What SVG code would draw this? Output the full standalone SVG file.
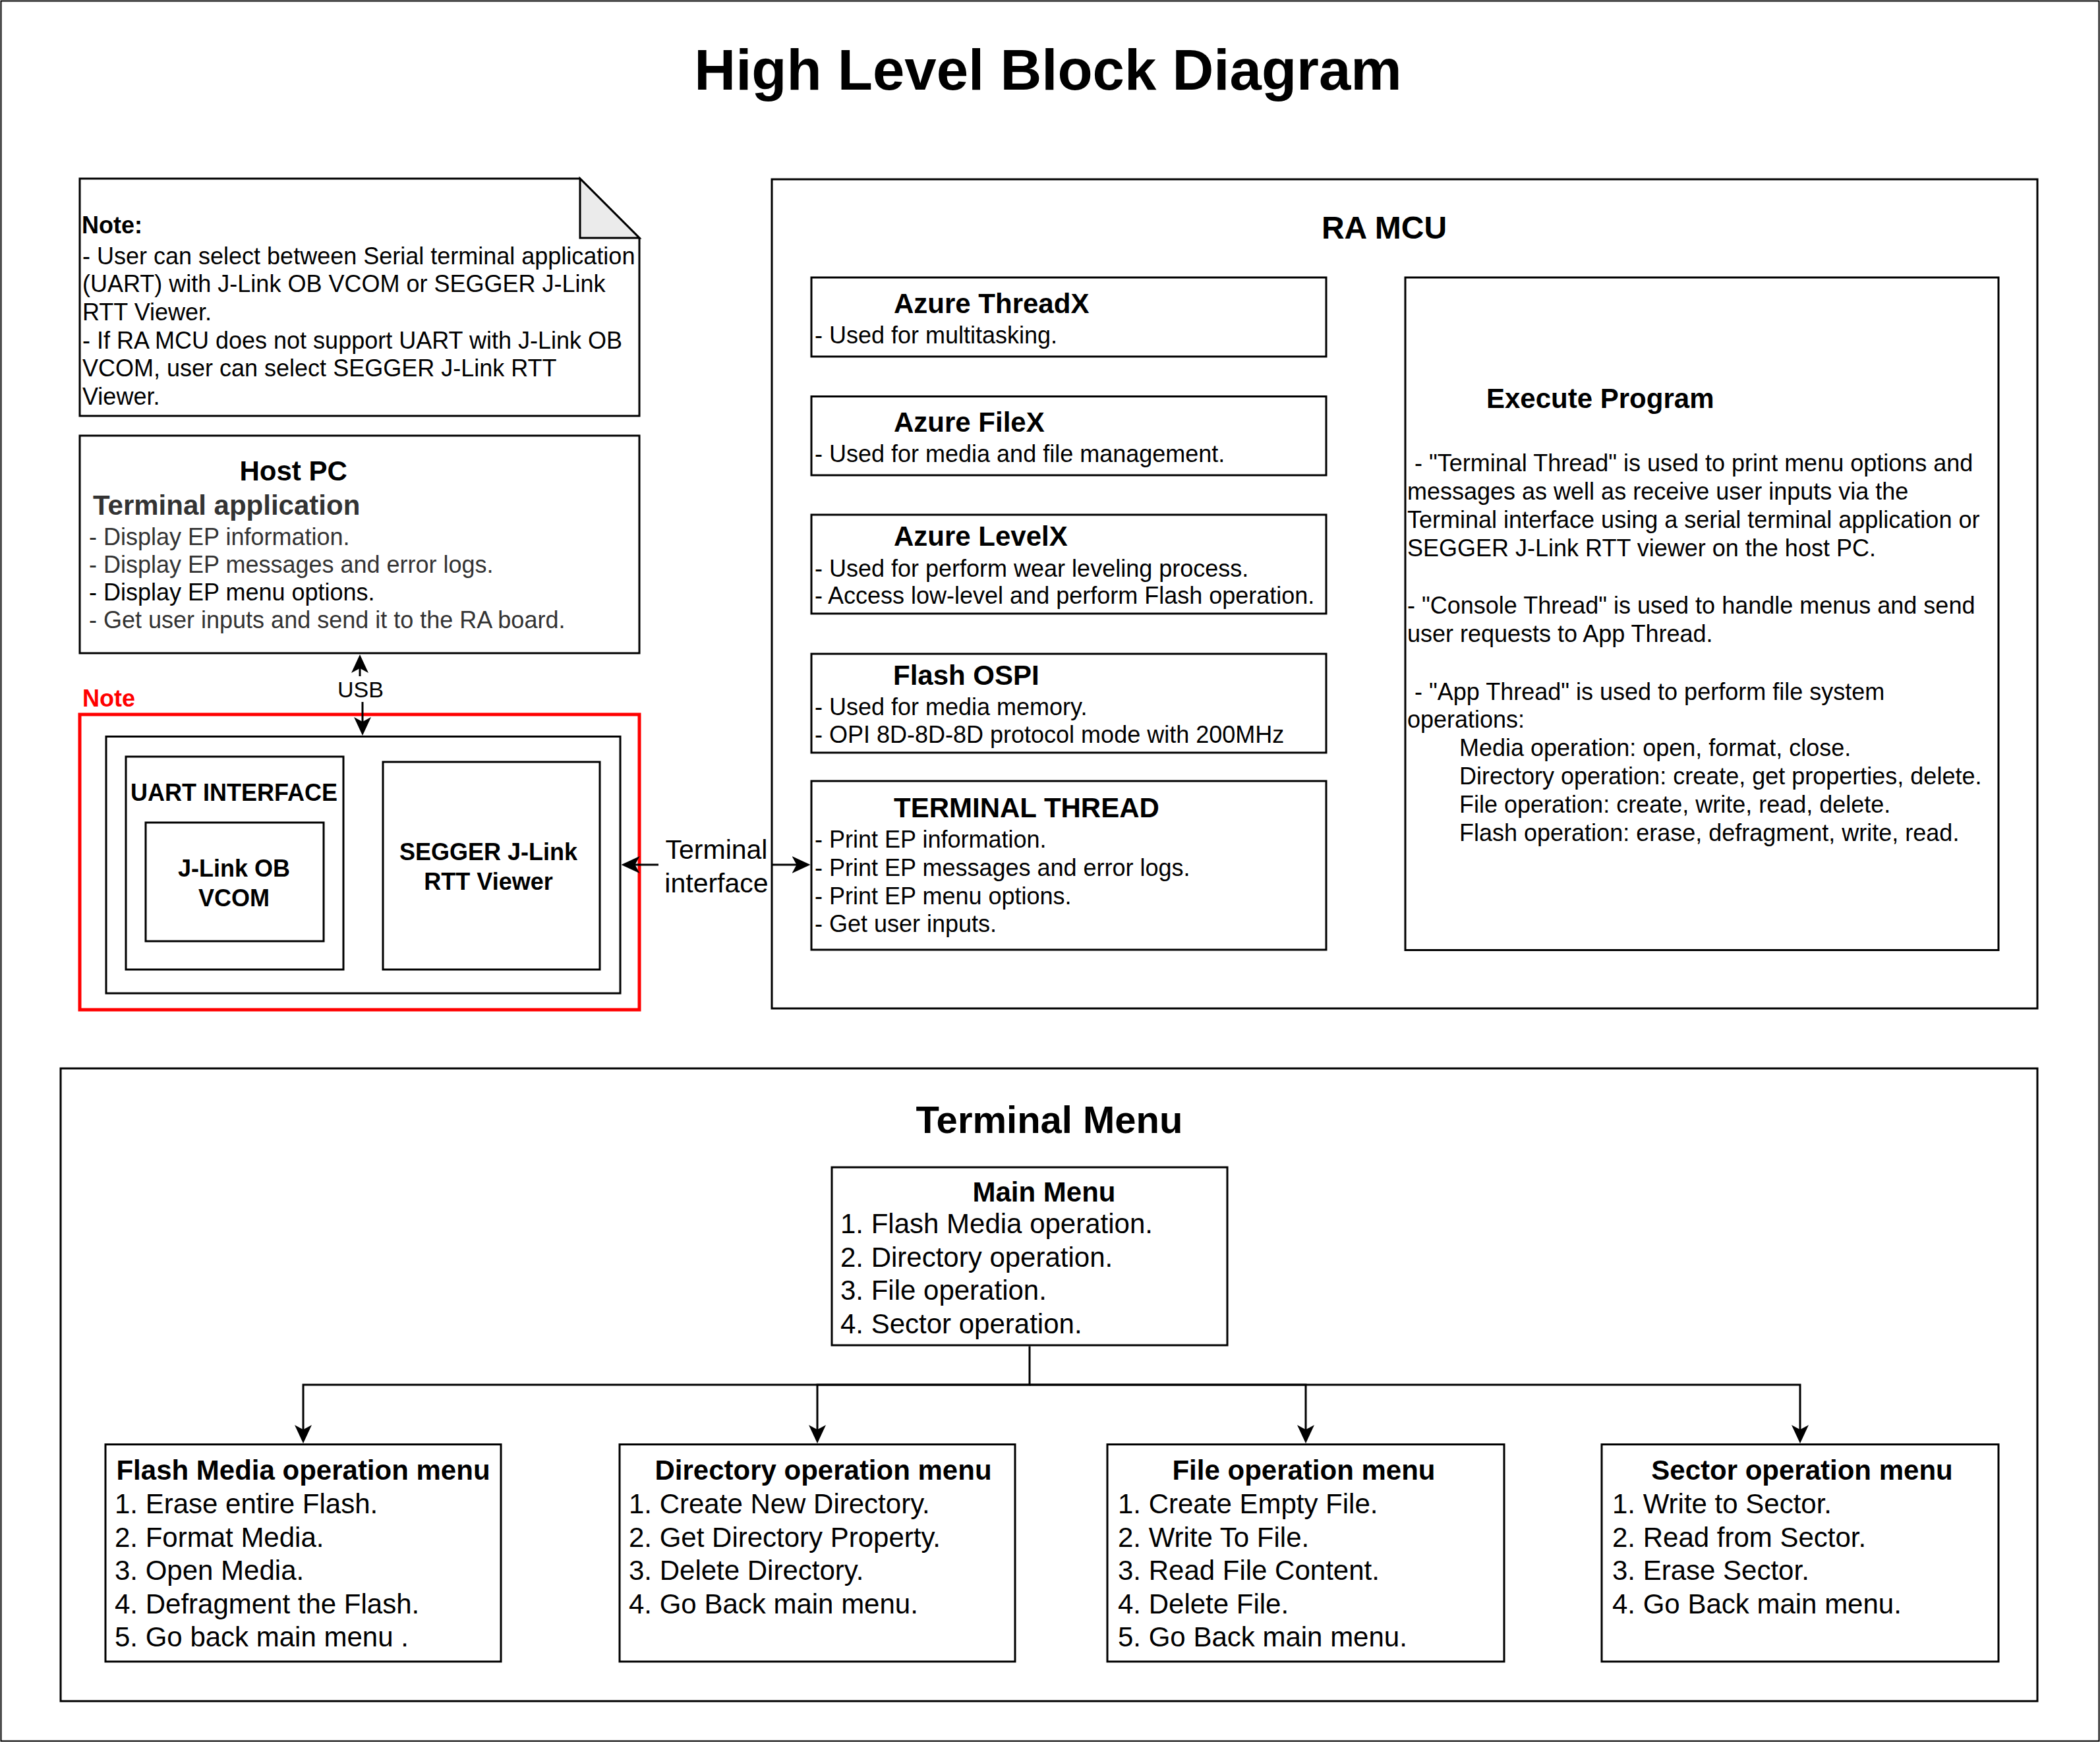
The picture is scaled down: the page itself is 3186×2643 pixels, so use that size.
<svg xmlns="http://www.w3.org/2000/svg" width="3186" height="2643" viewBox="0 0 3186 2643">
<style>
.box{fill:#fff;stroke:#000;stroke-width:3}
.t{font-family:"Liberation Sans",Arial,Helvetica,sans-serif;fill:#000}
.r36{font-size:36px}
.b36{font-size:36px;font-weight:bold}
.b42{font-size:42px;font-weight:bold}
.r42{font-size:42px}
.mid{text-anchor:middle}
.g{fill:#333}
.conn{fill:none;stroke:#000;stroke-width:3}
</style>
<defs>
<marker id="arr" markerUnits="userSpaceOnUse" markerWidth="28" markerHeight="26" viewBox="0 0 28 26" refX="22" refY="13" orient="auto">
<path d="M0,0 L28,13 L0,26 L7,13 Z" fill="#000"/>
</marker>
</defs>
<rect x="1.5" y="1.5" width="3183" height="2640" fill="#fff" stroke="#000" stroke-width="2"/>
<text class="t mid" x="1590" y="136" font-size="87" font-weight="bold">High Level Block Diagram</text>

<g id="note">
<path class="box" d="M121,271 H880 L970,361 V631 H121 Z"/>
<path d="M880,271 V361 H970 Z" fill="#ebebeb" stroke="#000" stroke-width="3" stroke-linejoin="miter"/>
<text class="t b36" x="124" y="354">Note:</text>
<text class="t r36" x="125" y="400.5">- User can select between Serial terminal application</text>
<text class="t r36" x="125" y="443">(UART) with J-Link OB VCOM or SEGGER J-Link</text>
<text class="t r36" x="125" y="486">RTT Viewer.</text>
<text class="t r36" x="125" y="528.5">- If RA MCU does not support UART with J-Link OB</text>
<text class="t r36" x="125" y="571">VCOM, user can select SEGGER J-Link RTT</text>
<text class="t r36" x="125" y="614">Viewer.</text>
</g>

<g id="host-pc">
<rect class="box" x="121" y="661" width="849" height="330"/>
<text class="t b42" x="363.5" y="729">Host PC</text>
<text class="t b42 g" x="141" y="781">Terminal application</text>
<text class="t r36 g" x="135" y="827">- Display EP information.</text>
<text class="t r36 g" x="135" y="869">- Display EP messages and error logs.</text>
<text class="t r36" x="135" y="911">- Display EP menu options.</text>
<text class="t r36 g" x="135" y="953">- Get user inputs and send it to the RA board.</text>
</g>

<g id="note-frame">
<text class="t b36" x="125" y="1072" style="fill:#ff0000">Note</text>
<rect x="121" y="1084" width="849" height="448" fill="none" stroke="#ff0000" stroke-width="5"/>
</g>

<g id="interface-box">
<rect class="box" x="161" y="1117.5" width="780" height="389.5"/>
</g>
<g id="uart-interface">
<rect class="box" x="191" y="1148" width="330" height="323"/>
<text class="t b36 mid" x="355" y="1215">UART INTERFACE</text>
</g>
<g id="jlink-ob-vcom">
<rect class="box" x="221" y="1248" width="270" height="180"/>
<text class="t b36 mid" x="355" y="1330">J-Link OB</text>
<text class="t b36 mid" x="355" y="1375">VCOM</text>
</g>
<g id="segger-rtt">
<rect class="box" x="581" y="1156" width="329" height="315"/>
<text class="t b36 mid" x="741" y="1305">SEGGER J-Link</text>
<text class="t b36 mid" x="741" y="1350">RTT Viewer</text>
</g>

<g id="ra-mcu">
<rect class="box" x="1171" y="272" width="1920" height="1258"/>
<text class="t mid" x="2100" y="362" font-size="48" font-weight="bold">RA MCU</text>
</g>
<g id="azure-threadx">
<rect class="box" x="1231" y="421" width="781" height="120"/>
<text class="t b42" x="1356" y="475">Azure ThreadX</text>
<text class="t r36" x="1236" y="521">- Used for multitasking.</text>
</g>
<g id="azure-filex">
<rect class="box" x="1231" y="601.5" width="781" height="119.5"/>
<text class="t b42" x="1356" y="655">Azure FileX</text>
<text class="t r36" x="1236" y="700.5">- Used for media and file management.</text>
</g>
<g id="azure-levelx">
<rect class="box" x="1231" y="781" width="781" height="150"/>
<text class="t b42" x="1356" y="828">Azure LevelX</text>
<text class="t r36" x="1236" y="874.5">- Used for perform wear leveling process.</text>
<text class="t r36" x="1236" y="916">- Access low-level and perform Flash operation.</text>
</g>
<g id="flash-ospi">
<rect class="box" x="1231" y="992" width="781" height="150"/>
<text class="t b42" x="1355" y="1039">Flash OSPI</text>
<text class="t r36" x="1236" y="1084.5">- Used for media memory.</text>
<text class="t r36" x="1236" y="1126.5">- OPI 8D-8D-8D protocol mode with 200MHz</text>
</g>
<g id="terminal-thread">
<rect class="box" x="1231" y="1185" width="781" height="256"/>
<text class="t b42" x="1356" y="1240">TERMINAL THREAD</text>
<text class="t r36" x="1236" y="1286">- Print EP information.</text>
<text class="t r36" x="1236" y="1329">- Print EP messages and error logs.</text>
<text class="t r36" x="1236" y="1371.5">- Print EP menu options.</text>
<text class="t r36" x="1236" y="1414">- Get user inputs.</text>
</g>
<g id="execute-program">
<rect class="box" x="2132" y="421" width="900" height="1020.5"/>
<text class="t b42" x="2255" y="619">Execute Program</text>
<text class="t r36" x="2146" y="714.5">- "Terminal Thread" is used to print menu options and</text>
<text class="t r36" x="2135" y="757.5">messages as well as receive user inputs via the</text>
<text class="t r36" x="2135" y="800.5">Terminal interface using a serial terminal application or</text>
<text class="t r36" x="2135" y="844">SEGGER J-Link RTT viewer on the host PC.</text>
<text class="t r36" x="2135" y="931">- "Console Thread" is used to handle menus and send</text>
<text class="t r36" x="2135" y="974">user requests to App Thread.</text>
<text class="t r36" x="2146" y="1061.5">- "App Thread" is used to perform file system</text>
<text class="t r36" x="2135" y="1104">operations:</text>
<text class="t r36" x="2214" y="1146.5">Media operation: open, format, close.</text>
<text class="t r36" x="2214" y="1189.5">Directory operation: create, get properties, delete.</text>
<text class="t r36" x="2214" y="1232.5">File operation: create, write, read, delete.</text>
<text class="t r36" x="2214" y="1276">Flash operation: erase, defragment, write, read.</text>
</g>

<g id="terminal-menu">
<rect class="box" x="92" y="1621" width="2999" height="960"/>
<text class="t mid" x="1592" y="1719" font-size="58" font-weight="bold">Terminal Menu</text>
</g>
<g id="main-menu">
<rect class="box" x="1262" y="1771" width="600" height="270"/>
<text class="t b42 mid" x="1584" y="1823">Main Menu</text>
<text class="t r42" x="1275" y="1871">1. Flash Media operation.</text>
<text class="t r42" x="1275" y="1921.5">2. Directory operation.</text>
<text class="t r42" x="1275" y="1972">3. File operation.</text>
<text class="t r42" x="1275" y="2022.5">4. Sector operation.</text>
</g>
<g id="flash-media-menu">
<rect class="box" x="160" y="2191.5" width="600" height="329.5"/>
<text class="t b42 mid" x="460" y="2245">Flash Media operation menu</text>
<text class="t r42" x="174" y="2296">1. Erase entire Flash.</text>
<text class="t r42" x="174" y="2346.5">2. Format Media.</text>
<text class="t r42" x="174" y="2397">3. Open Media.</text>
<text class="t r42" x="174" y="2447.5">4. Defragment the Flash.</text>
<text class="t r42" x="174" y="2498">5. Go back main menu .</text>
</g>
<g id="directory-menu">
<rect class="box" x="940" y="2191.5" width="600" height="329.5"/>
<text class="t b42 mid" x="1249" y="2245">Directory operation menu</text>
<text class="t r42" x="954" y="2296">1. Create New Directory.</text>
<text class="t r42" x="954" y="2346.5">2. Get Directory Property.</text>
<text class="t r42" x="954" y="2397">3. Delete Directory.</text>
<text class="t r42" x="954" y="2447.5">4. Go Back main menu.</text>
</g>
<g id="file-menu">
<rect class="box" x="1680" y="2191.5" width="602" height="329.5"/>
<text class="t b42 mid" x="1978" y="2245">File operation menu</text>
<text class="t r42" x="1696" y="2296">1. Create Empty File.</text>
<text class="t r42" x="1696" y="2346.5">2. Write To File.</text>
<text class="t r42" x="1696" y="2397">3. Read File Content.</text>
<text class="t r42" x="1696" y="2447.5">4. Delete File.</text>
<text class="t r42" x="1696" y="2498">5. Go Back main menu.</text>
</g>
<g id="sector-menu">
<rect class="box" x="2430" y="2191.5" width="602" height="329.5"/>
<text class="t b42 mid" x="2734" y="2245">Sector operation menu</text>
<text class="t r42" x="2446" y="2296">1. Write to Sector.</text>
<text class="t r42" x="2446" y="2346.5">2. Read from Sector.</text>
<text class="t r42" x="2446" y="2397">3. Erase Sector.</text>
<text class="t r42" x="2446" y="2447.5">4. Go Back main menu.</text>
</g>

<g id="connectors">
<path class="conn" d="M546,1026 V999" marker-end="url(#arr)"/>
<path class="conn" d="M550,1065 V1110" marker-end="url(#arr)"/>
<text class="t mid" x="547" y="1058" font-size="34">USB</text>
<path class="conn" d="M999,1312 H948.5" marker-end="url(#arr)"/>
<path class="conn" d="M1172,1312 H1223.5" marker-end="url(#arr)"/>
<text class="t mid" x="1087" y="1303" font-size="41">Terminal</text>
<text class="t mid" x="1087" y="1354" font-size="41">interface</text>
<path class="conn" d="M1562,2042.5 V2101 H460 V2184" marker-end="url(#arr)"/>
<path class="conn" d="M1562,2101 H1240 V2184" marker-end="url(#arr)"/>
<path class="conn" d="M1562,2101 H1981 V2184" marker-end="url(#arr)"/>
<path class="conn" d="M1562,2101 H2731 V2184" marker-end="url(#arr)"/>
</g>
</svg>
